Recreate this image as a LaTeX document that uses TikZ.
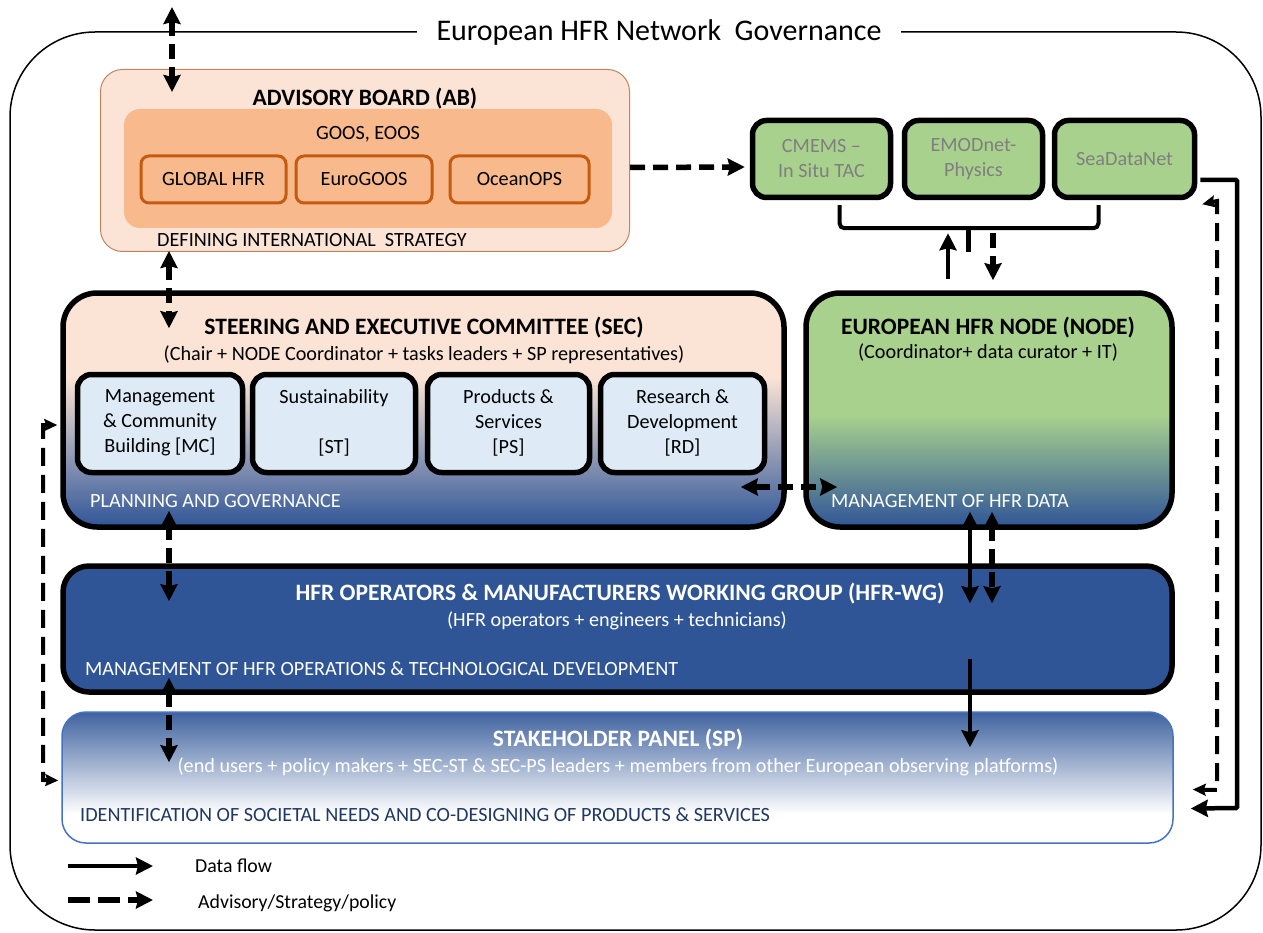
\documentclass[tikz,border=0pt]{standalone}
\usepackage{fontspec}
\setmainfont{Carlito}
\usetikzlibrary{arrows.meta,calc}
\definecolor{peach}{HTML}{FBE4D5}
\definecolor{orin}{HTML}{F8B98D}
\definecolor{ordark}{HTML}{C55A11}
\definecolor{orline}{HTML}{C0845E}
\definecolor{grn}{HTML}{A9D18E}
\definecolor{gtxt}{HTML}{7F7F7F}
\definecolor{dblue}{HTML}{2F5597}
\definecolor{lblue}{HTML}{DEEBF7}
\definecolor{spline}{HTML}{4472C4}
\definecolor{navy}{HTML}{1F3864}
\pgfdeclareverticalshading{secshade}{100bp}{color(0bp)=(dblue); color(25bp)=(dblue); color(57bp)=(peach); color(100bp)=(peach)}
\pgfdeclareverticalshading{nodeshade}{100bp}{color(0bp)=(dblue); color(25bp)=(dblue); color(49bp)=(grn); color(100bp)=(grn)}
\pgfdeclareverticalshading{spshade}{100bp}{color(0bp)=(white); color(36bp)=(white); color(75bp)=(dblue!92!white); color(100bp)=(dblue!92!white)}
\tikzset{
  x=1pt, y=-1pt,
  thickbox/.style={draw=black, line width=5.5pt, rounded corners=#1, inner sep=0pt},
  thickbox/.default=15pt,
  subbox/.style={thickbox=14pt, fill=lblue, minimum width=164pt, minimum height=98pt},
  greenbox/.style={thickbox=14pt, fill=grn, minimum width=138pt, minimum height=77pt},
  orbox/.style={draw=ordark, line width=3pt, rounded corners=8pt, fill=orin, minimum height=47pt, inner sep=0pt},
  txt/.style={font=\fontsize{20.2}{25}\selectfont, inner sep=0pt, align=center},
  btxt/.style={font=\fontsize{23.5}{27}\selectfont\bfseries, inner sep=0pt},
  dhead/.tip={Stealth[length=17pt,width=17pt,inset=2pt]},
  shead/.tip={Stealth[length=13pt,width=12pt,inset=2pt]},
  dflow/.style={line width=4.5pt, -dhead},
  dflow2/.style={line width=4.5pt, dhead-dhead},
  aflow/.style={line width=5.5pt, dash pattern=on 15pt off 8pt, -dhead},
  aflow2/.style={line width=5.5pt, dash pattern=on 15pt off 8pt, dhead-dhead},
  sflow2/.style={line width=4pt, dash pattern=on 18pt off 9pt, shead-shead},
}
\begin{document}
\begin{tikzpicture}
\useasboundingbox (0,0) rectangle (1263,933);
% outer frame
\draw[line width=1.5pt, rounded corners=85pt] (10,32) rectangle (1261,930);
\node[fill=white, inner xsep=20pt, inner ysep=6pt, font=\fontsize{30}{34}\selectfont] (title) at (659,33) {European HFR Network\ \ Governance};

% Advisory board
\node[draw=orline, line width=1pt, fill=peach, rounded corners=22pt, minimum width=529pt, minimum height=182pt] (ab) at (365,160.5) {};
\node[fill=orin, rounded corners=16pt, minimum width=488pt, minimum height=119pt, inner sep=0pt] (abin) at (368,168.5) {};
\node[btxt] (abt) at (365,99) {ADVISORY BOARD (AB)};
\node[txt] (goos) at (368,134) {GOOS, EOOS};
\node[orbox, minimum width=145pt] (glob) at (213.5,179.5) {};
\node[txt] at (glob) {GLOBAL HFR};
\node[orbox, minimum width=136pt] (eurog) at (364,179.5) {};
\node[txt] at (eurog) {EuroGOOS};
\node[orbox, minimum width=139pt] (ocean) at (519.5,179.5) {};
\node[txt] at (ocean) {OceanOPS};
\node[txt, anchor=west] (abdef) at (157,240) {DEFINING INTERNATIONAL\ \ STRATEGY};

% Green data infrastructures
\node[greenbox] (cmems) at (821.5,159) {};
\node[txt, text=gtxt] at (cmems) {CMEMS --\\In Situ TAC};
\node[greenbox] (emod) at (973.5,159) {};
\node[txt, text=gtxt] at (emod) {EMODnet-\\Physics};
\node[greenbox, minimum width=140pt] (sdn) at (1124.5,159) {};
\node[txt, text=gtxt] at (sdn) {SeaDataNet};

% SEC
\node[thickbox=34pt, shade, shading=secshade, minimum width=721pt, minimum height=234pt] (sec) at (423.5,410) {};
\node[btxt] (sect) at (424,328) {STEERING AND EXECUTIVE COMMITTEE (SEC)};
\node[txt] (secs) at (424,355) {(Chair + NODE Coordinator + tasks leaders + SP representatives)};
\node[subbox, minimum width=165pt] (mc) at (160,423.5) {};
\node[txt] at (160,423) {Management\\\& Community\\Building [MC]};
\node[subbox, minimum width=163pt] (st) at (334,423.5) {};
\node[txt] at (334,423) {Sustainability\\ \\{}[ST]};
\node[subbox, minimum width=162pt] (ps) at (508.5,423.5) {};
\node[txt] at (508.5,423) {Products \&\\Services\\{}[PS]};
\node[subbox, minimum width=164pt] (rd) at (682.5,423.5) {};
\node[txt] at (682.5,423) {Research \&\\Development\\{}[RD]};
\node[txt, text=white, anchor=west] (secp) at (90,501) {PLANNING AND GOVERNANCE};

% NODE
\node[thickbox=34pt, shade, shading=nodeshade, minimum width=366pt, minimum height=234pt] (node) at (989,410) {};
\node[btxt] (nodet) at (988,328) {EUROPEAN HFR NODE (NODE)};
\node[txt] (nodes) at (988,353) {(Coordinator+ data curator + IT)};
\node[txt, text=white, anchor=west] (nodem) at (831,501) {MANAGEMENT OF HFR DATA};

% HFR-WG
\node[thickbox=26pt, fill=dblue, minimum width=1109pt, minimum height=126pt] (wg) at (617.5,629) {};
\node[btxt, text=white] (wgt) at (620,594) {HFR OPERATORS \& MANUFACTURERS WORKING GROUP (HFR-WG)};
\node[txt, text=white] (wgs) at (617,621) {(HFR operators + engineers + technicians)};
\node[txt, text=white, anchor=west] (wgm) at (85,669) {MANAGEMENT OF HFR OPERATIONS \& TECHNOLOGICAL DEVELOPMENT};

% SP
\node[draw=spline, line width=1.5pt, rounded corners=24pt, shade, shading=spshade, minimum width=1111pt, minimum height=131pt, inner sep=0pt] (sp) at (617.5,777.5) {};
\node[btxt, text=white] (spt) at (618,740) {STAKEHOLDER PANEL (SP)};
\node[txt, text=white] (sps) at (618,767) {(end users + policy makers + SEC-ST \& SEC-PS leaders + members from other European observing platforms)};
\node[txt, text=navy, anchor=west] (spm) at (80,815) {IDENTIFICATION OF SOCIETAL NEEDS AND CO-DESIGNING OF PRODUCTS \& SERVICES};

% column / row guides for connectors
\coordinate (cL) at (169,0);
\coordinate (cD) at (970,0);
\coordinate (cA) at (992,0);
\coordinate (cU) at (948,0);
\coordinate (cV) at (993,0);
\coordinate (rH) at (0,487);

% connectors
\coordinate (top) at (172,7);
\draw[aflow2] (top) -- ($(ab.north west)+(72,23)$);
\draw[aflow2] ($(ab.south -| cL)+(0,-1)$) -- ($(sec.north -| cL)+(0,38)$);
\draw[aflow2] ($(sec.south -| cL)+(0,-19)$) -- ($(wg.north -| cL)+(0,38)$);
\draw[aflow2] ($(wg.south -| cL)+(0,-17)$) -- ($(sp.north -| cL)+(0,51)$);
\draw[dflow2] ($(node.south -| cD)+(0,-18)$) -- ($(wg.north -| cD)+(0,40)$);
\draw[aflow2] ($(node.south -| cA)+(0,-18)$) -- ($(wg.north -| cA)+(0,40)$);
\draw[dflow] ($(wg.north -| cD)+(0,96)$) -- ($(sp.north -| cD)+(0,36)$);
\draw[aflow2] ($(sec.east |- rH)+(-46,0)$) -- ($(node.west |- rH)+(34,0)$);
\draw[aflow] ($(ab.east)+(0,7)$) -- ($(cmems.west)+(-5,8)$);
% bracket
\draw[line width=4pt, rounded corners=5pt] ($(cmems.south)+(18,5)$) -- ($(cmems.south)+(18,28)$) -- ($(sdn.south)+(-26,28)$) -- ($(sdn.south)+(-26,5)$);
\draw[line width=5pt] ($(emod.south)+(-5,27)$) -- ($(emod.south)+(-5,52)$);
\draw[dflow] ($(node.north -| cU)+(0,-11)$) -- ($(emod.south -| cU)+(0,33)$);
\draw[aflow] ($(emod.south -| cV)+(0,33)$) -- ($(node.north -| cV)+(0,-10)$);
% right side loops
\draw[dflow, rounded corners=1pt] ($(sdn.east)+(3,21)$) -- (1237,180) -- (1237,808) -- ($(sp.east)+(17,31)$);
\draw[sflow2] ($(sdn.south east)+(5,4)$) -- (1217,201) -- (1217,790) -- ($(sp.east)+(19,12)$);
% left side loop
\draw[sflow2] ($(sec.west)+(-3,15)$) -- (43,425) -- (43,780) -- ($(sp.west)+(-3,3)$);

% legend
\coordinate (l1a) at (68,866); \coordinate (l1b) at (153,866);
\coordinate (l2a) at (68,900); \coordinate (l2b) at (153,900);
\draw[dflow] (l1a) -- (l1b);
\draw[aflow, dash pattern=on 22pt off 8pt] (l2a) -- (l2b);
\node[txt, anchor=west, font=\fontsize{19.8}{23}\selectfont] (lg1) at (195,866) {Data flow};
\node[txt, anchor=west, font=\fontsize{19.8}{23}\selectfont] (lg2) at (198,903) {Advisory/Strategy/policy};
\end{tikzpicture}
\end{document}
